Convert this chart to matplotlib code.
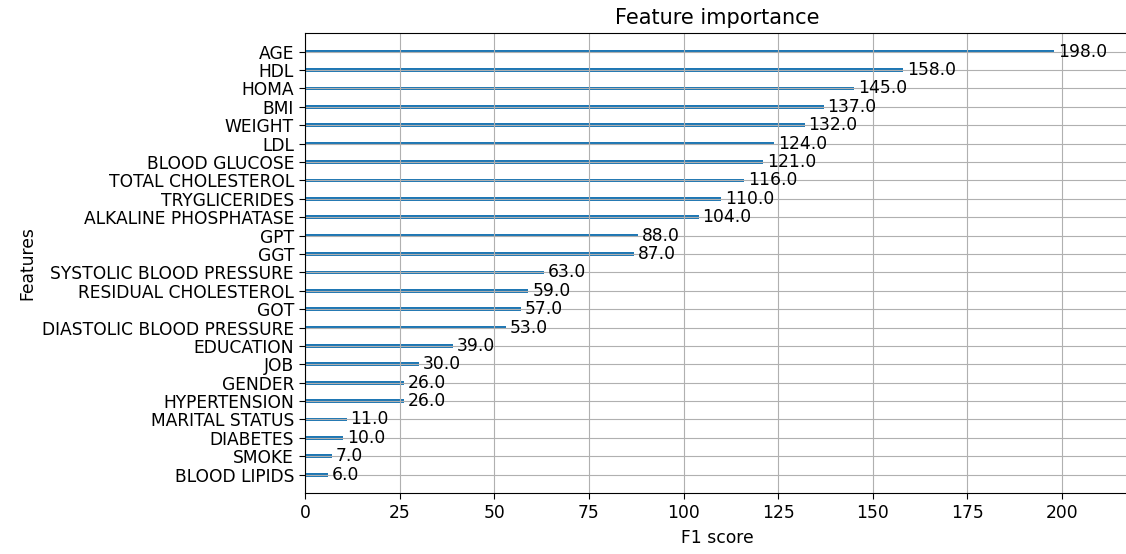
import matplotlib.pyplot as plt

features = ["AGE", "HDL", "HOMA", "BMI", "WEIGHT", "LDL", "BLOOD GLUCOSE",
            "TOTAL CHOLESTEROL", "TRYGLICERIDES", "ALKALINE PHOSPHATASE", "GPT", "GGT",
            "SYSTOLIC BLOOD PRESSURE", "RESIDUAL CHOLESTEROL", "GOT",
            "DIASTOLIC BLOOD PRESSURE", "EDUCATION", "JOB", "GENDER", "HYPERTENSION",
            "MARITAL STATUS", "DIABETES", "SMOKE", "BLOOD LIPIDS"]
scores = [198, 158, 145, 137, 132, 124, 121, 116, 110, 104, 88, 87,
          63, 59, 57, 53, 39, 30, 26, 26, 11, 10, 7, 6]

# xgboost style: ascending from bottom
feats = features[::-1]
vals = scores[::-1]
ylocs = list(range(len(vals)))

fig = plt.figure(figsize=(11.26, 5.54), dpi=100)
ax = fig.add_axes([0.271, 0.110, 0.732, 0.830])

ax.barh(ylocs, vals, align="center", height=0.2)
for x, y in zip(vals, ylocs):
    ax.text(x + 1, y, f"{float(x)}", va="center", fontsize=12.3)

ax.set_yticks(ylocs)
ax.set_yticklabels(feats, fontsize=12.3)
ax.tick_params(axis="x", labelsize=12.3, length=4.5)
ax.tick_params(axis="y", length=4.5)
ax.set_xlim(0, max(vals) * 1.1)
ax.set_ylim(-1, len(vals))
ax.set_title("Feature importance", fontsize=15, pad=7)
ax.set_xlabel("F1 score", fontsize=12.3, labelpad=5)
ax.set_ylabel("Features", fontsize=12.3)
ax.grid(True)

fig.savefig("out.png", dpi=100)
